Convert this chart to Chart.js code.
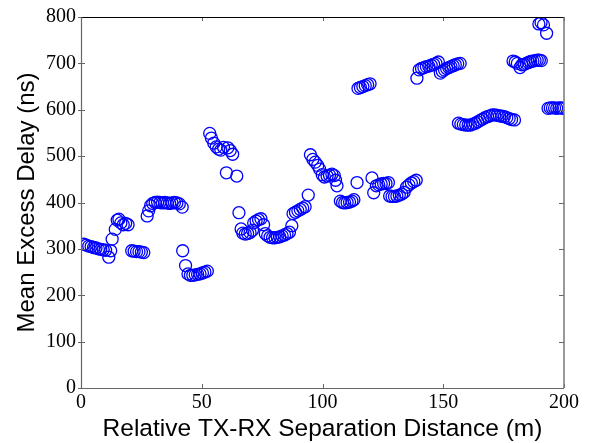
<!DOCTYPE html>
<html>
<head>
<meta charset="utf-8">
<script src="https://cdn.jsdelivr.net/npm/chart.js@4/dist/chart.umd.min.js"></script>
<style>
html,body{margin:0;padding:0;background:#fff;}
#wrap{position:relative;width:592px;height:443px;}
</style>
</head>
<body>
<div id="wrap"><canvas id="c" width="592" height="443"></canvas></div>
<script>
const distance = [1.2,2.2,3.2,4.2,5.2,6.2,7.2,8.2,9.2,10.2,11.5,12.3,12.9,14.2,15,15.7,16.5,17.5,18.5,19.5,
21,22,23,24,25,26,27.4,28,28.8,29.7,30.7,31.7,32.7,33.7,34.7,35.7,36.7,37.7,38.7,39.7,40.7,41.9,
42.1,43.3,44.3,45.3,46.3,47.3,48.3,49.3,50.3,51.3,52.3,
53.3,54,55,56,57,57.9,59,60.2,60.8,61.8,62.8,64.5,65.4,66.3,67,68,69,70,71,71.5,72.5,73.5,74.5,75.6,
76.3,77.3,78.3,79.3,80.3,81.3,82.3,83.3,84.3,85.3,86.3,87.3,87.8,88.8,89.8,90.8,91.8,92.8,94.1,
95,96,97,98,98.8,99.9,100.8,101.9,102.9,103.9,104.9,105.4,106,107.4,108.3,109.2,110.2,111.2,112.2,113,114.3,
114.7,115.7,116.7,117.7,118.7,119.7,
120.5,121.2,122.3,123.3,124.3,125.3,126.3,127.3,127.8,128.8,129.8,130.8,131.8,132.8,133.8,134.8,135.8,136.8,137.8,138.8,
139.1,140,141,142,143,144,145,146,147,148,148.8,149.6,150.5,151.4,152.3,153.2,154.1,155,156,157,
156.3,157.3,158.3,159.3,160.3,161.3,162.3,163.3,164.3,165.3,166.3,167.3,168.3,169.3,170.3,171.3,172.3,173.3,174.3,175.3,176.3,177.3,178.3,179.5,
178.9,179.8,180.7,181.8,182.6,183.5,184.4,185.3,186.2,187.1,188,188.9,189.8,190.6,
189.6,190.5,191.5,192.8,
193.4,194.3,195.2,196.1,197,197.9,198.8,199.6];
const delay = [310,308,306,305,303,302,300,299,298,297,282,296,321,342,362,364,356,352,355,352,
296,295,294,294,293,292,371,382,393,398,400,401,400,399,400,399,398,399,400,399,397,390,
296,264,246,243,243,244,245,246,248,250,252,
549,539,528,520,515,513,519,464,518,512,504,457,378,343,334,332,333,335,340,356,360,363,365,352,
333,328,325,324,324,325,326,328,330,333,336,350,376,379,382,385,388,391,416,
503,493,487,480,472,460,455,457,459,461,458,448,436,403,400,399,400,401,403,406,443,
646,648,650,652,654,656,
453,421,436,438,440,441,441,443,414,413,413,414,416,418,422,433,438,442,445,448,
668,686,689,691,693,694,696,698,700,703,679,683,686,689,691,693,695,697,699,700,
571,569,568,567,567,567,569,571,574,577,580,583,585,587,589,589,588,587,586,585,583,581,579,578,
705,703,700,691,697,698,700,702,704,705,706,707,707,706,
785,788,783,765,
603,604,604,604,603,604,604,603];
const xTickValues = [0,50,100,150,200];
const yTickValues = [0,100,200,300,400,500,600,700,800];
const xTitle = 'Relative TX-RX Separation Distance (m)';
const yTitle = 'Mean Excess Delay (ns)';

const points = distance.map((d,i)=>({x:d,y:delay[i]}));

const frame = {
  id:'frame',
  afterDatasetsDraw(chart){
    const {ctx, chartArea:a, scales:{x,y}} = chart;
    ctx.save();
    ctx.lineWidth = 1;
    ctx.strokeStyle = '#666';
    xTickValues.forEach(v=>{
      const px = Math.round(x.getPixelForValue(v))+0.5;
      ctx.beginPath(); ctx.moveTo(px,a.bottom); ctx.lineTo(px,a.bottom-4); ctx.stroke();
      ctx.beginPath(); ctx.moveTo(px,a.top); ctx.lineTo(px,a.top+4); ctx.stroke();
    });
    yTickValues.forEach(v=>{
      const py = Math.round(y.getPixelForValue(v))+0.5;
      ctx.beginPath(); ctx.moveTo(a.left-3,py); ctx.lineTo(a.left+4,py); ctx.stroke();
      ctx.beginPath(); ctx.moveTo(a.right,py); ctx.lineTo(a.right-5,py); ctx.stroke();
    });
    ctx.strokeStyle = '#000';
    ctx.beginPath(); ctx.moveTo(a.left,a.top+0.5); ctx.lineTo(a.right,a.top+0.5); ctx.stroke();
    ctx.strokeStyle = '#777';
    ctx.lineWidth = 1.5;
    ctx.beginPath(); ctx.moveTo(a.right,a.top); ctx.lineTo(a.right,a.bottom); ctx.stroke();
    ctx.lineWidth = 1.2;
    ctx.strokeStyle = '#666';
    ctx.beginPath(); ctx.moveTo(a.left+0.5,a.top); ctx.lineTo(a.left+0.5,a.bottom); ctx.stroke();
    ctx.beginPath(); ctx.moveTo(a.left,a.bottom+0.5); ctx.lineTo(a.right,a.bottom+0.5); ctx.stroke();
    ctx.restore();
  }
};

new Chart(document.getElementById('c'), {
  type:'scatter',
  data:{datasets:[{
    data:points,
    showLine:false,
    pointStyle:'circle',
    pointRadius:6,
    pointHoverRadius:6,
    pointBorderWidth:1.3,
    borderColor:'#0000ff',
    backgroundColor:'rgba(0,0,0,0)',
    pointBackgroundColor:'rgba(0,0,0,0)',
    pointBorderColor:'#0000ff'
  }]},
  options:{
    responsive:false,
    animation:false,
    events:[],
    layout:{padding:{left:0,right:28,top:15,bottom:0}},
    plugins:{legend:{display:false},tooltip:{enabled:false}},
    scales:{
      x:{
        type:'linear', min:0, max:200,
        afterBuildTicks(s){ s.ticks = xTickValues.map(v=>({value:v})); },
        afterFit(s){ s.height = 55; },
        grid:{display:false, drawTicks:false},
        border:{display:false},
        ticks:{color:'#000', font:{family:'"Liberation Serif","Times New Roman",serif', size:20}, padding:3, maxRotation:0},
        title:{display:true, text:xTitle, color:'#000', font:{family:'"Liberation Sans",Arial,sans-serif', size:24.5}, padding:{top:0,bottom:-1}}
      },
      y:{
        type:'linear', min:0, max:800,
        afterBuildTicks(s){ s.ticks = yTickValues.map(v=>({value:v})); },
        afterFit(s){ s.width = 81; },
        grid:{display:false, drawTicks:false},
        border:{display:false},
        ticks:{color:'#000', font:{family:'"Liberation Serif","Times New Roman",serif', size:20}, padding:5},
        title:{display:true, text:yTitle, color:'#000', font:{family:'"Liberation Sans",Arial,sans-serif', size:24}, padding:{top:13,bottom:0}}
      }
    }
  },
  plugins:[frame]
});
</script>
</body>
</html>
